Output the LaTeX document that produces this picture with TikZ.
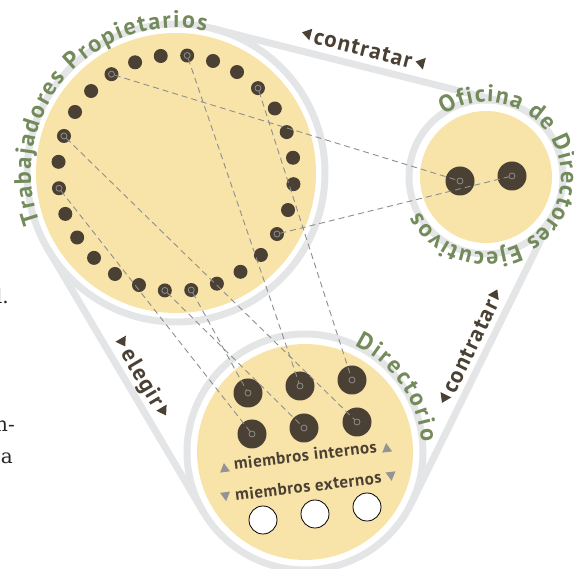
\documentclass[tikz,border=0pt]{standalone}
\usepackage{fontspec}
\setmainfont{PT Sans}
\newfontfamily\ptb{PT Sans}
\newfontfamily\ptbl[LetterSpace=6]{PT Sans}
\newfontfamily\ptm[LetterSpace=3]{PT Sans}
\newfontfamily\strayfont{DejaVu Serif}
\usetikzlibrary{calc,decorations.text}
\definecolor{ringgray}{HTML}{E4E5E7}
\definecolor{cyellow}{HTML}{F8E4A9}
\definecolor{dotbrown}{HTML}{4A4033}
\definecolor{tgreen}{HTML}{738A5A}
\definecolor{dashgray}{HTML}{8E8E8E}
\definecolor{trigray}{HTML}{949494}
\newcommand{\triL}{\tikz[baseline=0pt]\fill[dotbrown] (0pt,8pt) -- (9pt,14pt) -- (9pt,2pt) -- cycle;}
\newcommand{\triR}{\tikz[baseline=0pt]\fill[dotbrown] (9pt,8pt) -- (0pt,14pt) -- (0pt,2pt) -- cycle;}
\newcommand{\triU}{\tikz[baseline=0pt]\fill[trigray] (0pt,-1pt) -- (10pt,-1pt) -- (5pt,8pt) -- cycle;}
\newcommand{\triD}{\tikz[baseline=0pt]\fill[trigray] (0pt,10pt) -- (10pt,10pt) -- (5pt,1pt) -- cycle;}
\begin{document}
\begin{tikzpicture}[x=1pt,y=1pt,
  ring/.style={draw=ringgray, line width=7pt},
  tdot/.style={circle, fill=dotbrown, inner sep=0pt, minimum size=14pt},
  bigdot/.style={circle, fill=dotbrown, inner sep=0pt, minimum size=29pt},
  extdot/.style={circle, fill=white, draw=black, line width=0.8pt, inner sep=0pt, minimum size=28pt},
  lmark/.style={circle, draw=dashgray, line width=0.8pt, inner sep=0pt, minimum size=6pt},
  link/.style={draw=dashgray, line width=0.9pt, dash pattern=on 6pt off 4pt},
  lbl/.style={text=dotbrown, font=\ptbl\bfseries\fontsize{23}{23}\selectfont, inner sep=0pt},
  mlbl/.style={text=dotbrown, font=\ptm\bfseries\fontsize{17}{17}\selectfont, inner sep=0pt},
  stray/.style={font=\strayfont\fontsize{20}{24}\selectfont, text=black!85, inner sep=0pt},
  arctext/.style={decorate, decoration={text along path, text align=fit to path, text color=tgreen, text={|\ptb\bfseries\fontsize{24}{24}\selectfont|#1}}}
]
\useasboundingbox (0,0) rectangle (574,-569);
% centres
\coordinate (TPc) at (176,-173);
\coordinate (OFc) at (486,-177);
\coordinate (DIc) at (305,-452);
% rings
\draw[ring] (TPc) circle[radius=149];
\draw[ring] (OFc) circle[radius=77];
\draw[ring] (DIc) circle[radius=118];
% tangent belt
\coordinate (tA) at ($(TPc)+(75.8:149)$);
\coordinate (tB) at ($(OFc)+(75.8:77)$);
\coordinate (lA) at ($(TPc)+(-149.4:149)$);
\coordinate (lB) at ($(DIc)+(-149.4:118)$);
\coordinate (rA) at ($(OFc)+(-26.5:77)$);
\coordinate (rB) at ($(DIc)+(-26.5:118)$);
\draw[ring] (tA) -- (tB);
\draw[ring] (lA) -- (lB);
\draw[ring] (rA) -- (rB);
% yellow discs
\fill[cyellow] (TPc) circle[radius=140];
\fill[cyellow] (OFc) circle[radius=66];
\fill[cyellow] (DIc) circle[radius=108];
% worker dots
\foreach \k in {0,...,27}
  \node[tdot] (t\k) at ($(TPc)+({84.57+12.857*\k}:118)$) {};
% executive dots
\node[bigdot] (o1) at (460,-181) {};
\node[bigdot] (o2) at (512,-176) {};
% board dots
\node[bigdot] (d1) at (248,-393) {};
\node[bigdot] (d2) at (300,-386) {};
\node[bigdot] (d3) at (352,-380) {};
\node[bigdot] (d4) at (252,-434) {};
\node[bigdot] (d5) at (304,-428) {};
\node[bigdot] (d6) at (357,-422) {};
\node[extdot] (e1) at (263,-520) {};
\node[extdot] (e2) at (315,-514) {};
\node[extdot] (e3) at (367,-507) {};
% markers
\foreach \k in {0,3,6,8,14,15,19,25}
  \node[lmark] (m\k) at (t\k) {};
\node[lmark] (mo1) at (o1) {};
\node[lmark] (mo2) at (o2) {};
\foreach \k in {1,...,6}
  \node[lmark] (md\k) at (d\k) {};
% dashed links
\draw[link] (m0) -- (md2);
\draw[link] (m25) -- (md3);
\draw[link] (m6) -- (md6);
\draw[link] (m8) -- (md4);
\draw[link] (m14) -- (md5);
\draw[link] (m15) -- (md1);
\draw[link] (m3) -- (mo1);
\draw[link] (m19) -- (mo2);
% arc titles
\path[arctext={Trabajadores Propietarios}] ($(TPc)+(200:145)$) arc[start angle=200, end angle=78, radius=145];
\path[arctext={Oficina de Directores Ejecutivos}] ($(OFc)+(124:75)$) arc[start angle=124, end angle=-152, radius=75];
\path[arctext={Directorio}] ($(DIc)+(65:117)$) arc[start angle=65, end angle=5, radius=117];
% relation labels
\node[lbl, rotate=-14.4, anchor=base] (ctop) at ($(tA)!0.50!(tB)+(75.6:10)$) {\triL\,contratar\,\triL};
\node[lbl, rotate=-59.4, anchor=base] (lel) at ($(lA)!0.52!(lB)+(30.6:9)$) {\triR\,elegir\,\triR};
\node[lbl, rotate=64, anchor=base] (crt) at ($(rB)!0.515!(rA)+(154:9)$) {\triL\,contratar\,\triR};
% member labels
\node[mlbl, rotate=7, anchor=base] (mi) at (306,-461) {\triU\ miembros internos\ \triU};
\node[mlbl, rotate=7, anchor=base] (me) at (309,-492) {\triD\ miembros externos\ \triD};
% stray page text
\node[stray, anchor=base east] (s1) at (9,-304) {l.};
\node[stray, anchor=base east] (s2) at (15,-432) {n-};
\node[stray, anchor=base east] (s3) at (13,-464) {a};
\end{tikzpicture}
\end{document}
